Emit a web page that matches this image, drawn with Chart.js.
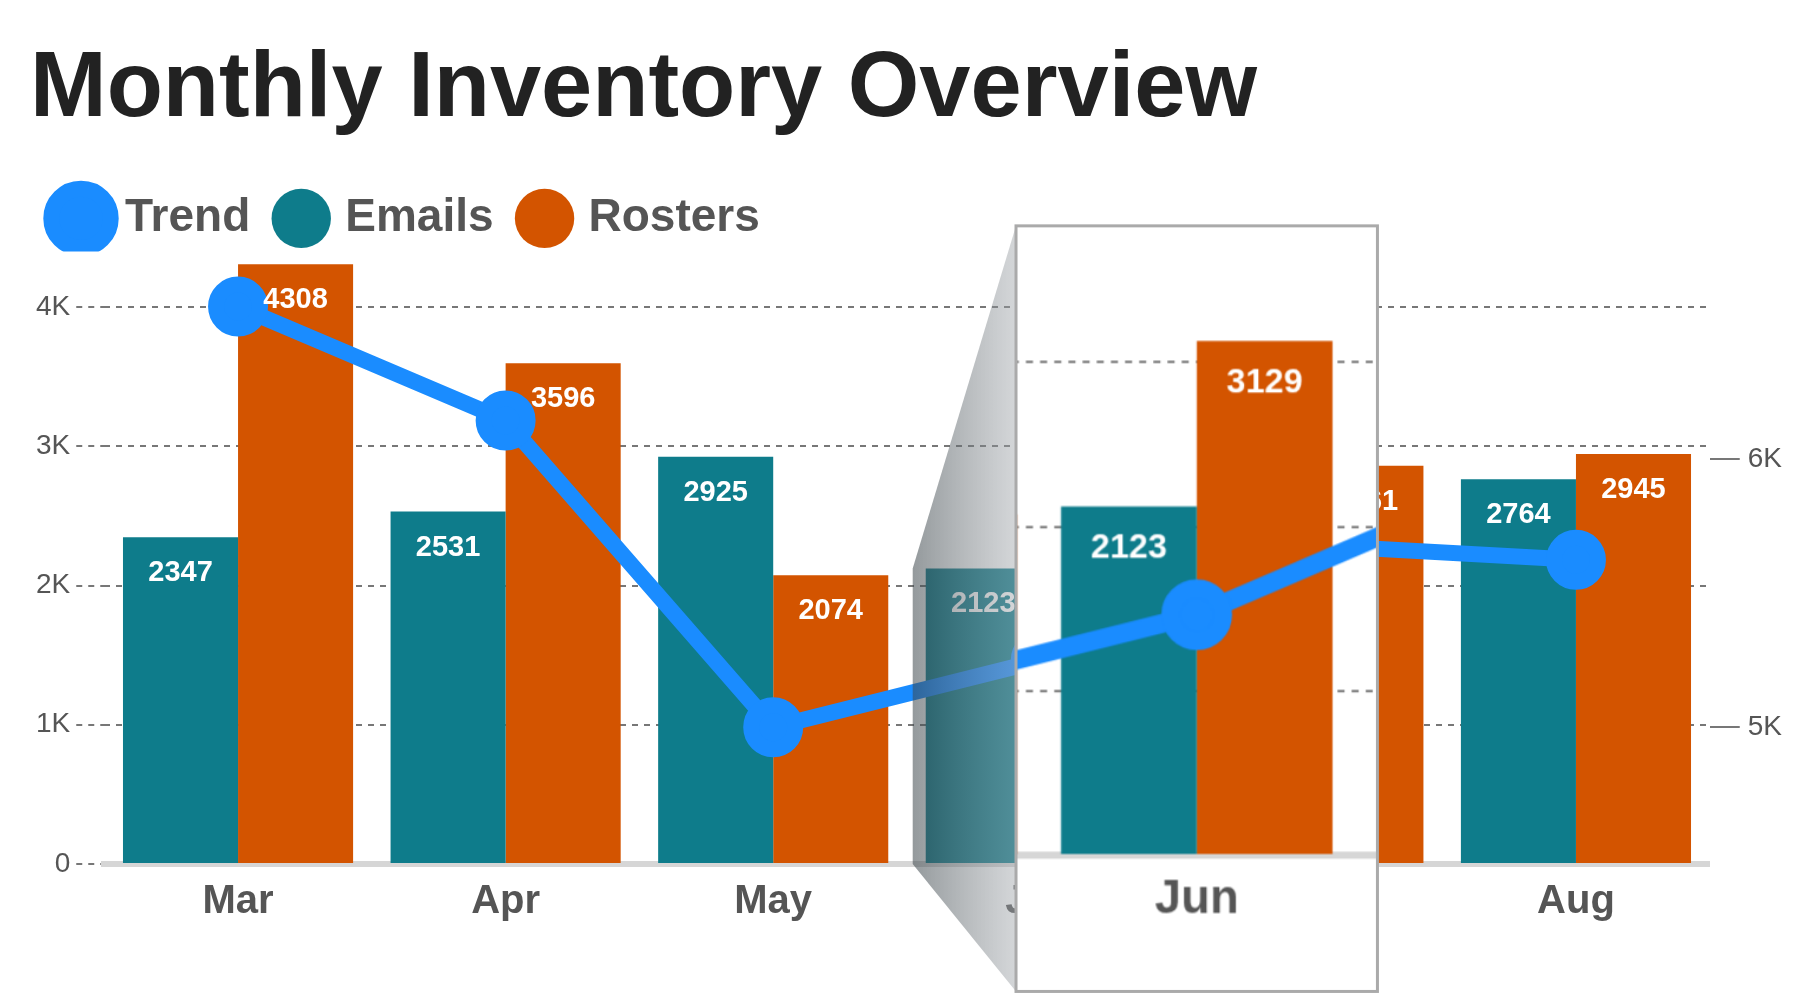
<!DOCTYPE html>
<html>
<head>
<meta charset="utf-8">
<script src="https://cdn.jsdelivr.net/npm/chart.js@4/dist/chart.umd.min.js"></script>
<style>
  body { margin: 0; background: #fff; }
  #wrap { width: 1800px; height: 1000px; position: relative; }
</style>
</head>
<body>
<div id="wrap"><canvas id="chart" width="1800" height="1000"></canvas></div>
<script>
const months = ["Mar", "Apr", "May", "Jun", "Jul", "Aug"];
const emails = [2347, 2531, 2925, 2123, 2480, 2764];
const rosters = [4308, 3596, 2074, 3129, 2861, 2945];
const trend = [6570, 6145, 5000, 5250, 5680, 5625];
const leftTicks = [0, 1000, 2000, 3000, 4000];
const rightTicks = [5000, 6000];
const zoomIndex = 3;

function fmtK(v) { return v === 0 ? "0" : (v / 1000) + "K"; }

// white value labels inside the top of each bar
const barLabels = {
  id: "barLabels",
  afterDatasetsDraw(chart) {
    const ctx = chart.ctx;
    ctx.save();
    ctx.font = "bold 29px Arial, 'Liberation Sans', sans-serif";
    ctx.fillStyle = "#fff";
    ctx.textAlign = "center";
    ctx.textBaseline = "middle";
    [0, 1].forEach(di => {
      chart.getDatasetMeta(di).data.forEach((bar, i) => {
        ctx.fillText(chart.data.datasets[di].data[i], bar.x, bar.y + 36);
      });
    });
    ctx.restore();
  }
};

// magnifier box over Jun
const magnifier = {
  id: "magnifier",
  afterDraw(chart) {
    const ctx = chart.ctx;
    const y = chart.scales.y, x = chart.scales.x;
    const base = y.getPixelForValue(0);
    const u = base - y.getPixelForValue(1000);
    const cx = x.getPixelForValue(zoomIndex);
    const k = 1.18;
    const sx = cx - 1.1 * u, sy = base - 3.83 * u;
    const sw = 2.2 * u, sh = 4.66 * u;
    if (!(sw > 0 && sh > 0)) return;
    const tw = sw * k, th = sh * k;
    const tcx = cx + 1.12 * u;
    const tx = tcx - tw / 2;
    const tBase = base - 0.064 * u;
    const ty = tBase - (base - sy) * k;

    const dpr = chart.currentDevicePixelRatio || 1;
    const off = document.createElement("canvas");
    off.width = Math.round(sw * dpr); off.height = Math.round(sh * dpr);
    off.getContext("2d").drawImage(chart.canvas, sx * dpr, sy * dpr, sw * dpr, sh * dpr, 0, 0, off.width, off.height);

    const topBar = chart.getDatasetMeta(0).data[zoomIndex].y;
    const lx = cx - 0.92 * u;
    ctx.save();
    const g = ctx.createLinearGradient(lx, 0, tx, 0);
    g.addColorStop(0, "rgba(60,70,75,0.55)");
    g.addColorStop(1, "rgba(160,165,170,0.45)");
    ctx.fillStyle = g;
    ctx.beginPath();
    ctx.moveTo(lx, topBar);
    ctx.lineTo(tx, ty);
    ctx.lineTo(tx, ty + th);
    ctx.lineTo(lx, base);
    ctx.closePath();
    ctx.fill();

    ctx.fillStyle = "#fff";
    ctx.fillRect(tx, ty, tw, th);
    ctx.drawImage(off, tx, ty, tw, th);
    ctx.strokeStyle = "#aaa";
    ctx.lineWidth = 3;
    ctx.strokeRect(tx, ty, tw, th);
    ctx.restore();
  }
};

new Chart(document.getElementById("chart"), {
  data: {
    labels: months,
    datasets: [
      { type: "bar", label: "Emails", data: emails, backgroundColor: "#0e7c8b", yAxisID: "y", order: 2 },
      { type: "bar", label: "Rosters", data: rosters, backgroundColor: "#d35400", yAxisID: "y", order: 2 },
      { type: "line", label: "Trend", data: trend, borderColor: "#1a8cff", backgroundColor: "#1a8cff",
        borderWidth: 16, pointRadius: 22, pointHoverRadius: 22, yAxisID: "y1", order: 1 }
    ]
  },
  options: {
    responsive: false,
    animation: false,
    devicePixelRatio: 1,
    layout: { padding: { left: 30, right: 10, top: 10, bottom: 60 } },
    datasets: { bar: { categoryPercentage: 0.86, barPercentage: 1 } },
    plugins: {
      title: {
        display: true, text: "Monthly Inventory Overview", align: "start", color: "#222",
        font: { size: 92, weight: "bold", family: "Arial, 'Liberation Sans', sans-serif" },
        padding: { top: 25, bottom: 20 }
      },
      legend: {
        align: "start",
        labels: {
          usePointStyle: true, pointStyle: "circle", boxWidth: 42, boxHeight: 42, padding: 30,
          color: "#555", font: { size: 46, weight: "bold", family: "Arial, 'Liberation Sans', sans-serif" }
        }
      },
      tooltip: { enabled: false }
    },
    scales: {
      x: {
        grid: { display: false, drawTicks: false },
        border: { color: "#d6d6d6", width: 6 },
        ticks: { color: "#555", padding: 14, font: { size: 40, weight: "bold", family: "Arial, 'Liberation Sans', sans-serif" } }
      },
      y: {
        position: "left", min: 0, max: 4400,
        afterBuildTicks: s => { s.ticks = leftTicks.map(v => ({ value: v })); },
        grid: { color: "#777", lineWidth: 2, tickLength: 28, tickBorderDash: [6, 6] },
        border: { display: false, dash: [6, 6] },
        ticks: { color: "#555", padding: 6, callback: fmtK, font: { size: 28, family: "Arial, 'Liberation Sans', sans-serif" } }
      },
      y1: {
        position: "right", min: 4490, max: 6776,
        afterBuildTicks: s => { s.ticks = rightTicks.map(v => ({ value: v })); },
        grid: { drawOnChartArea: false, color: "#777", lineWidth: 2, tickLength: 30 },
        border: { display: false },
        ticks: { color: "#555", padding: 8, callback: fmtK, font: { size: 28, family: "Arial, 'Liberation Sans', sans-serif" } }
      }
    }
  },
  plugins: [barLabels, magnifier]
});
</script>
</body>
</html>
